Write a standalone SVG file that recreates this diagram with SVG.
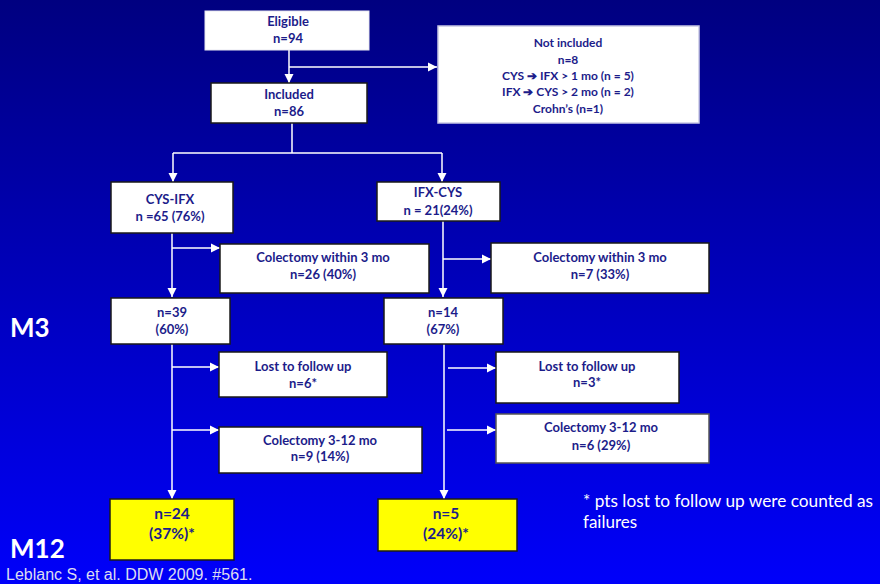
<svg xmlns="http://www.w3.org/2000/svg" width="880" height="584" viewBox="0 0 880 584">
<defs>
<linearGradient id="bg" x1="0" y1="0" x2="0" y2="1">
<stop offset="0" stop-color="#000080"/>
<stop offset="1" stop-color="#0000fa"/>
</linearGradient>
<marker id="ah" markerUnits="userSpaceOnUse" markerWidth="10" markerHeight="10" viewBox="0 0 10 10" refX="9" refY="5" orient="auto">
<path d="M0,0.5 L9,5 L0,9.5 Z" fill="#ffffff"/>
</marker>
<style>
.box{fill:#ffffff;stroke:#1a1a1a;stroke-width:1.5}
.ybox{fill:#ffff00;stroke:#1a1a1a;stroke-width:1.5}
.t{font-family:Lato,"Liberation Sans",sans-serif;font-weight:bold;font-size:13px;fill:#1c1c8a;text-anchor:middle}
.ts{font-size:12px}
.ty{font-size:15.5px}
.c{fill:none;stroke:#ffffff;stroke-width:1.5}
.a{marker-end:url(#ah)}
.lab{font-family:Lato,"Liberation Sans",sans-serif;font-weight:bold;font-size:26px;fill:#ffffff}
</style>
</defs>
<rect x="0" y="0" width="880" height="584" fill="url(#bg)"/>

<g id="connectors">
<path class="c a" d="M289 50 V83"/>
<path class="c a" d="M289 67 H437"/>
<path class="c" d="M292 123 V153 M173 153 H442"/>
<path class="c a" d="M173 153 V182"/>
<path class="c a" d="M442 153 V182"/>
<path class="c a" d="M172 233 V297"/>
<path class="c a" d="M172 248 H220"/>
<path class="c a" d="M443 221 V297"/>
<path class="c a" d="M443 259 H491"/>
<path class="c a" d="M172 344 V499"/>
<path class="c a" d="M172 367 H219"/>
<path class="c a" d="M172 430 H219"/>
<path class="c a" d="M444 344 V499"/>
<path class="c a" d="M448 368 H496"/>
<path class="c a" d="M447 430 H496"/>
</g>

<g id="eligible">
<rect x="205" y="11" width="164" height="39" fill="#ffffff" stroke="#e8e8f0" stroke-width="1"/>
<text class="t" x="288" y="26">Eligible</text>
<text class="t" x="288" y="43">n=94</text>
</g>

<g id="not-included">
<rect x="438" y="26" width="261" height="97" fill="#ffffff" stroke="#c8c8e4" stroke-width="1.5"/>
<text class="t ts" x="568" y="47">Not included</text>
<text class="t ts" x="568" y="64">n=8</text>
<text class="t ts" x="568" y="80">CYS ➔ IFX &gt; 1 mo (n = 5)</text>
<text class="t ts" x="568" y="96">IFX ➔ CYS &gt; 2 mo (n = 2)</text>
<text class="t ts" x="568" y="113">Crohn’s (n=1)</text>
</g>

<g id="included">
<rect class="box" x="211" y="83" width="156" height="40"/>
<text class="t" x="289" y="99">Included</text>
<text class="t" x="289" y="116">n=86</text>
</g>

<g id="cys-ifx">
<rect class="box" x="111" y="182" width="122" height="51"/>
<text class="t" x="170" y="204">CYS-IFX</text>
<text class="t" x="170" y="221">n =65  (76%)</text>
</g>

<g id="ifx-cys">
<rect class="box" x="377" y="182" width="123" height="39"/>
<text class="t" x="438" y="197">IFX-CYS</text>
<text class="t" x="438" y="215">n = 21(24%)</text>
</g>

<g id="colectomy3-left">
<rect class="box" x="220" y="244" width="209" height="49"/>
<text class="t" x="323" y="262">Colectomy within 3  mo</text>
<text class="t" x="323" y="279">n=26 (40%)</text>
</g>

<g id="colectomy3-right">
<rect class="box" x="491" y="243" width="218" height="50"/>
<text class="t" x="600" y="262">Colectomy within 3  mo</text>
<text class="t" x="600" y="279">n=7 (33%)</text>
</g>

<g id="m3-left">
<rect class="box" x="111" y="298" width="119" height="46"/>
<text class="t" x="172" y="317">n=39</text>
<text class="t" x="172" y="334">(60%)</text>
</g>

<g id="m3-right">
<rect class="box" x="384" y="298" width="119" height="46"/>
<text class="t" x="443" y="317">n=14</text>
<text class="t" x="443" y="334">(67%)</text>
</g>

<g id="lost-left">
<rect class="box" x="219" y="352" width="168" height="45"/>
<text class="t" x="303" y="371">Lost to follow  up</text>
<text class="t" x="303" y="388">n=6*</text>
</g>

<g id="colectomy12-left">
<rect class="box" x="219" y="427" width="203" height="46"/>
<text class="t" x="320" y="445">Colectomy 3-12  mo</text>
<text class="t" x="320" y="461">n=9 (14%)</text>
</g>

<g id="lost-right">
<rect class="box" x="496" y="352" width="183" height="51"/>
<text class="t" x="587" y="371">Lost to follow  up</text>
<text class="t" x="587" y="387">n=3*</text>
</g>

<g id="colectomy12-right">
<rect x="496" y="414" width="213" height="49" fill="#ffffff" stroke="#555" stroke-width="1.5"/>
<text class="t" x="601" y="432">Colectomy 3-12  mo</text>
<text class="t" x="601" y="450">n=6 (29%)</text>
</g>

<g id="m12-left">
<rect class="ybox" x="110" y="499" width="124" height="61"/>
<text class="t ty" x="172" y="519">n=24</text>
<text class="t ty" x="172" y="539">(37%)*</text>
</g>

<g id="m12-right">
<rect class="ybox" x="378" y="499" width="139" height="52"/>
<text class="t ty" x="446" y="519">n=5</text>
<text class="t ty" x="446" y="539">(24%)*</text>
</g>

<text class="lab" x="10" y="337">M3</text>
<text class="lab" x="10" y="558">M12</text>
<text x="6" y="580" font-family="'Liberation Sans',Arial,sans-serif" font-size="16" fill="#dcdcf0">Leblanc S, et al. DDW 2009. #561.</text>
<text font-family="Lato,'Liberation Sans',sans-serif" font-size="17" fill="#ffffff">
<tspan x="583" y="507" textLength="290" lengthAdjust="spacingAndGlyphs">* pts lost to follow up were counted as</tspan>
<tspan x="583" y="528">failures</tspan>
</text>
</svg>
